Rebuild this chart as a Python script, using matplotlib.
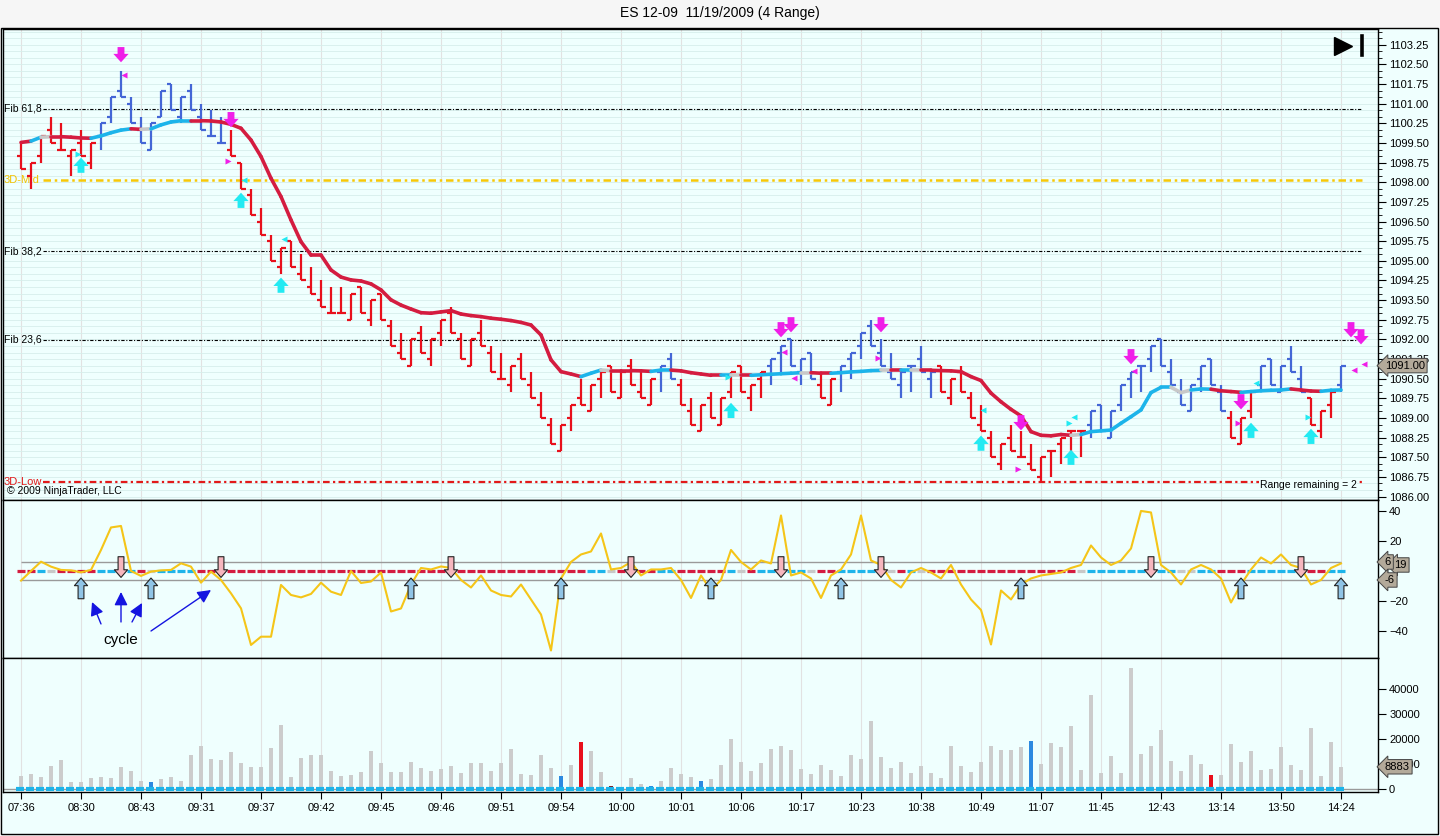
import matplotlib
matplotlib.use("Agg")
import matplotlib.pyplot as plt
from matplotlib.patches import Rectangle
from matplotlib.ticker import MultipleLocator, FixedLocator
import numpy as np

plt.rcParams['font.family'] = ['Liberation Sans', 'DejaVu Sans']

# ---------------- data ----------------
times = ["07:36", "08:30", "08:43", "09:31", "09:37", "09:42", "09:45", "09:46",
         "09:51", "09:54", "10:00", "10:01", "10:06", "10:17", "10:23", "10:38",
         "10:49", "11:07", "11:45", "12:43", "13:14", "13:50", "14:24"]

# 4 range bars: every bar spans 1.00 point, high given, low = high - 1
bar_range = 1.00
highs = [1099.50, 1098.75, 1099.75, 1100.50, 1100.25, 1099.25, 1100.00, 1099.50, 1100.25, 1101.25,
         1102.25, 1101.25, 1100.50, 1100.25, 1101.50, 1101.75, 1101.25, 1101.75, 1101.00, 1100.75,
         1100.50, 1100.00, 1098.75, 1097.75, 1097.00, 1096.00, 1095.50, 1095.75, 1095.25, 1094.75,
         1094.25, 1094.00, 1094.00, 1093.75, 1094.00, 1093.50, 1093.75, 1092.75, 1092.25, 1092.00,
         1092.50, 1092.00, 1092.75, 1093.25, 1092.25, 1092.00, 1092.75, 1091.75, 1091.50, 1091.00,
         1091.50, 1090.75, 1090.00, 1089.00, 1088.75, 1089.50, 1090.50, 1090.25, 1090.75, 1091.00,
         1090.75, 1091.25, 1090.75, 1090.50, 1091.00, 1091.50, 1090.50, 1089.75, 1089.50, 1090.00,
         1089.75, 1090.75, 1091.00, 1090.25, 1090.75, 1091.25, 1091.75, 1092.00, 1091.25, 1091.50,
         1090.75, 1090.50, 1091.00, 1091.50, 1092.25, 1092.75, 1092.00, 1091.50, 1090.75, 1091.00,
         1091.75, 1090.75, 1091.00, 1090.50, 1091.00, 1090.00, 1089.50, 1088.50, 1088.00, 1088.75,
         1088.50, 1088.00, 1087.50, 1087.75, 1088.25, 1088.50, 1088.50, 1089.25, 1089.50, 1089.25,
         1090.25, 1090.75, 1091.00, 1091.75, 1092.00, 1091.25, 1090.50, 1090.25, 1091.00, 1091.25,
         1090.25, 1089.25, 1089.00, 1090.00, 1091.00, 1091.25, 1091.00, 1091.75, 1091.00, 1089.75,
         1089.25, 1090.00, 1091.00]
opens = [1099.00, 1098.25, 1099.00, 1100.00, 1099.25, 1099.00, 1099.50, 1098.75, 1099.75, 1100.50,
         1101.50, 1101.00, 1100.00, 1099.25, 1100.50, 1101.75, 1100.50, 1101.50, 1100.50, 1099.75,
         1099.50, 1099.25, 1098.75, 1097.50, 1096.50, 1095.75, 1094.75, 1095.75, 1094.50, 1094.00,
         1093.50, 1093.00, 1093.00, 1092.75, 1094.00, 1092.75, 1093.75, 1092.50, 1091.50, 1091.00,
         1092.25, 1091.25, 1092.25, 1093.00, 1092.00, 1091.00, 1092.25, 1091.50, 1090.50, 1090.25,
         1091.25, 1090.25, 1089.50, 1088.75, 1087.75, 1089.00, 1089.75, 1089.25, 1090.50, 1091.00,
         1089.75, 1091.00, 1090.00, 1089.50, 1090.75, 1091.25, 1090.25, 1089.25, 1088.50, 1089.75,
         1088.75, 1090.00, 1091.00, 1089.75, 1090.50, 1091.00, 1091.50, 1092.00, 1090.75, 1091.50,
         1090.25, 1089.50, 1090.75, 1091.25, 1091.75, 1092.50, 1091.50, 1090.75, 1090.25, 1091.00,
         1091.25, 1090.50, 1091.00, 1089.75, 1090.75, 1089.75, 1088.75, 1088.25, 1087.25, 1088.25,
         1087.50, 1087.25, 1086.75, 1087.75, 1088.00, 1088.50, 1088.50, 1088.75, 1089.50, 1088.25,
         1089.50, 1090.50, 1091.00, 1091.25, 1092.00, 1090.75, 1090.00, 1089.25, 1090.50, 1091.25,
         1090.00, 1089.00, 1088.00, 1089.25, 1090.25, 1091.25, 1090.00, 1091.25, 1090.50, 1089.75,
         1088.50, 1089.50, 1090.25]
closes = [1098.50, 1098.75, 1099.75, 1099.50, 1099.25, 1099.25, 1099.00, 1099.50, 1100.25, 1101.25,
          1101.25, 1100.25, 1099.50, 1100.25, 1101.50, 1100.75, 1101.25, 1100.75, 1100.00, 1099.75,
          1099.50, 1099.00, 1097.75, 1096.75, 1096.00, 1095.00, 1095.50, 1094.75, 1094.25, 1093.75,
          1093.25, 1093.00, 1093.00, 1093.75, 1093.00, 1093.50, 1092.75, 1091.75, 1091.25, 1092.00,
          1091.50, 1092.00, 1092.75, 1092.25, 1091.25, 1092.00, 1091.75, 1090.75, 1090.50, 1091.00,
          1090.50, 1089.75, 1089.00, 1088.00, 1088.75, 1089.50, 1089.50, 1090.25, 1090.75, 1090.00,
          1090.75, 1090.25, 1089.75, 1090.50, 1091.00, 1090.50, 1089.50, 1088.75, 1089.50, 1089.00,
          1089.75, 1090.75, 1090.00, 1090.25, 1090.75, 1091.25, 1091.75, 1091.00, 1091.25, 1090.50,
          1089.75, 1090.50, 1091.00, 1091.50, 1092.25, 1091.75, 1091.00, 1090.50, 1090.75, 1091.00,
          1090.75, 1090.75, 1090.00, 1090.50, 1090.00, 1089.00, 1088.50, 1087.50, 1088.00, 1087.75,
          1087.50, 1087.00, 1087.50, 1087.75, 1088.25, 1088.50, 1088.50, 1089.25, 1088.50, 1089.25,
          1090.25, 1090.75, 1091.00, 1091.75, 1091.00, 1090.25, 1089.50, 1090.25, 1091.00, 1090.25,
          1089.25, 1088.25, 1089.00, 1090.00, 1091.00, 1090.25, 1091.00, 1090.75, 1090.00, 1088.75,
          1089.25, 1090.00, 1091.00]
# bar colour runs (r = red trend, b = blue trend)
bar_runs = [("r", 8), ("b", 13), ("r", 43), ("b", 2), ("r", 9), ("b", 5), ("r", 2),
            ("b", 10), ("r", 15), ("b", 14), ("r", 3), ("b", 5), ("r", 3), ("b", 1)]

# smoothed moving average on the price panel
ma = [1099.52, 1099.57, 1099.72, 1099.74, 1099.74, 1099.72, 1099.69, 1099.68, 1099.77, 1099.89,
      1099.99, 1100.04, 1100.02, 1100.04, 1100.19, 1100.30, 1100.35, 1100.35, 1100.35, 1100.34,
      1100.30, 1100.21, 1100.06, 1099.61, 1098.98, 1098.15, 1097.45, 1096.56, 1095.73, 1095.22,
      1095.22, 1094.65, 1094.38, 1094.27, 1094.23, 1094.12, 1093.89, 1093.51, 1093.31, 1093.16,
      1093.02, 1093.00, 1093.05, 1093.10, 1092.97, 1092.91, 1092.87, 1092.81, 1092.77, 1092.72,
      1092.65, 1092.55, 1092.17, 1091.22, 1090.77, 1090.68, 1090.58, 1090.71, 1090.83, 1090.81,
      1090.81, 1090.81, 1090.80, 1090.78, 1090.83, 1090.83, 1090.80, 1090.73, 1090.68, 1090.63,
      1090.63, 1090.63, 1090.63, 1090.63, 1090.65, 1090.67, 1090.69, 1090.71, 1090.73, 1090.73,
      1090.71, 1090.71, 1090.73, 1090.76, 1090.78, 1090.81, 1090.82, 1090.82, 1090.82, 1090.82,
      1090.82, 1090.82, 1090.81, 1090.80, 1090.77, 1090.58, 1090.43, 1089.95, 1089.62, 1089.33,
      1089.08, 1088.48, 1088.34, 1088.32, 1088.37, 1088.34, 1088.37, 1088.48, 1088.51, 1088.54,
      1088.80, 1089.05, 1089.31, 1089.97, 1090.17, 1090.17, 1089.97, 1090.07, 1090.11, 1090.10,
      1090.04, 1090.01, 1089.98, 1090.01, 1090.04, 1090.06, 1090.07, 1090.11, 1090.07, 1090.03,
      1090.02, 1090.06, 1090.07]
# colour of the MA segment ending at each bar (r red, c cyan, g grey)
ma_runs = [("r", 2), ("c", 1), ("g", 1), ("r", 4), ("c", 4), ("r", 1), ("g", 1), ("c", 4),
           ("r", 39), ("c", 2), ("g", 1), ("r", 4), ("c", 2), ("r", 5), ("c", 1), ("g", 1),
           ("r", 1), ("c", 5), ("g", 1), ("r", 2), ("c", 5), ("g", 1), ("r", 1), ("c", 1),
           ("g", 1), ("r", 15), ("g", 1), ("c", 9), ("g", 2), ("c", 2), ("r", 3), ("c", 5),
           ("r", 3), ("c", 2)]

fib_names = ["Fib 61,8", "Fib 38,2", "Fib 23,6"]
fib_levels = [1100.80, 1095.36, 1091.98]
mid_3d = 1098.07
low_3d = 1086.56

# signal arrows (bar index, price)
sell_arrows = [(10, 1102.86), (21, 1100.38), (76, 1092.36), (77, 1092.55), (86, 1092.55),
               (100, 1088.81), (111, 1091.33), (122, 1089.61), (133, 1092.36), (134, 1092.09)]
buy_arrows = [(6, 1098.66), (22, 1097.32), (26, 1094.08), (71, 1089.30), (96, 1088.05),
              (105, 1087.51), (123, 1088.54), (129, 1088.31)]
mag_left = [(10.3, 1102.09), (76.3, 1091.52), (77.3, 1090.53), (111.3, 1090.80),
            (133.3, 1090.83), (134.3, 1091.06)]
mag_right = [(20.7, 1098.81), (85.7, 1091.29), (99.7, 1087.06), (121.7, 1088.81)]
cyan_left = [(22.3, 1098.09), (26.3, 1095.84), (96.2, 1089.31), (105.3, 1089.04), (123.5, 1090.34)]
cyan_right = [(5.7, 1099.08), (70.7, 1090.57), (104.8, 1088.81), (128.7, 1089.04)]
last_price = 1091.00

# cycle oscillator
osc = [-6.4, 0, 6.2, 2.9, 0.7, 0.4, -0.9, 0.7, 14, 29,
       30, 0, -3.3, -0.4, 0.4, 0.7, 5.1, 2.9, -7.8, -0.4,
       -6, -14.9, -24.9, -49.3, -43.8, -43.8, -9.3, -16, -17.6, -15.3,
       -7.8, -13.8, -16, 0, -8, -7, -1, -27, -25, -9,
       2, 1, 3, 2, -6, -11, -3, -13, -16, -17,
       -9, -19, -29, -53, -5, 6, 11, 13, 25, 1,
       2, 6, -3, 1, 1, 2, -6, -18, -3, -13,
       -6, 14, 6, 1, 7, 5, 37, -3, -1, -5,
       -18, -3, 1, 11, 37, 7, 4, -6, -11, -1,
       2, -1, -5, 4, -9, -19, -26, -49, -13, -19,
       -9, -5, -3, -2, -1, 2, 4, 17, 9, 4,
       7, 15, 40, 39, 4, -1, -9, 1, 4, 1,
       -5, -21, -9, 1, 9, 5, 11, 4, 2, -9,
       -6, 2, 5]
osc_band = 6
osc_up = [6, 13, 39, 54, 69, 82, 100, 122, 132]
osc_dn = [10, 20, 43, 61, 76, 86, 113, 128]

# volume
vol = [5200, 6000, 4900, 9200, 11600, 2800, 2800, 4500, 4900, 4500,
       8800, 7200, 3300, 2800, 4100, 4800, 3300, 13600, 17200, 12000,
       11600, 14800, 10400, 8800, 8800, 16400, 25600, 4800, 12400, 13600,
       13600, 7200, 5200, 5600, 6800, 15200, 10400, 6800, 6800, 10800,
       8400, 7200, 8000, 9200, 6400, 10500, 10500, 7300, 10500, 16100,
       6100, 5700, 13700, 8500, 5300, 9700, 18700, 15300, 6900, 1300,
       200, 4500, 2100, 1300, 3300, 8500, 6100, 4900, 3300, 4100,
       9700, 20100, 10900, 7300, 10500, 16100, 17300, 15700, 8100, 6100,
       9700, 7700, 5300, 13700, 12100, 27300, 12900, 8500, 10900, 6500,
       9300, 6500, 4500, 17300, 9300, 6900, 10900, 17300, 15700, 15700,
       16900, 19300, 10100, 18500, 16900, 25300, 7700, 37700, 6500, 13300,
       6500, 48500, 14100, 17300, 23700, 11300, 7300, 13700, 10100, 5700,
       5700, 18100, 10900, 15300, 7700, 8100, 16900, 9700, 7700, 24500,
       5300, 18900, 8883]
vol_blue = [13, 54, 63, 68, 101]
vol_red = [56, 119]
vol_darkred = [59]

# ---------------- styling ----------------
BG = "#effffe"
GRID_H = "#d6eeeb"
GRID_V = "#e2e2e2"
RED = "#e8101c"
BLUE = "#4466d6"
MA_COL = {"r": "#d41c40", "c": "#1cb4ea", "g": "#c8c8c8"}
BAR_COL = {"r": RED, "b": BLUE}
TAG = dict(boxstyle="larrow,pad=0.2", fc="#b3aa9a", ec="#444444", lw=0.7)

def expand(runs):
    out = []
    for c, n in runs:
        out += [c] * n
    return out

n = len(highs)
x = np.arange(n)
lows = np.array(highs) - bar_range
bar_cols = [BAR_COL[c] for c in expand(bar_runs)]
ma_cols = expand(ma_runs)
tick_pos = list(range(0, n, 6))
xlim = (-1.8, 135.7)

W, H = 1440, 836
fig = plt.figure(figsize=(W / 100, H / 100), dpi=100, facecolor="#f6f6f6")
frame = Rectangle((1 / W, 2 / H), 1 - 3 / W, 1 - 30 / H, transform=fig.transFigure,
                  fc=BG, ec="black", lw=1)
frame.set_zorder(-5)
fig.patches.append(frame)
fig.text(0.5, 1 - 13 / H, "ES 12-09  11/19/2009 (4 Range)", ha="center", va="center", fontsize=10)

def panel(top, bottom):
    ax = fig.add_axes([3 / W, 1 - bottom / H, 1375 / W, (bottom - top) / H], facecolor=BG)
    ax.set_zorder(1)
    ax.set_xlim(*xlim)
    ax.yaxis.tick_right()
    ax.tick_params(axis="y", which="both", direction="out", labelsize=8, colors="black", pad=2)
    ax.tick_params(axis="y", which="major", length=6)
    ax.tick_params(axis="y", which="minor", length=3)
    ax.tick_params(axis="x", which="both", bottom=False, labelbottom=False)
    for s in ax.spines.values():
        s.set_color("black")
        s.set_linewidth(1)
    for t in tick_pos:
        ax.axvline(t, color=GRID_V, lw=0.8, zorder=0)
    return ax

# ---------------- price panel ----------------
ax1 = panel(29, 500)
ax1.set_ylim(1085.87, 1103.85)
ax1.yaxis.set_major_locator(FixedLocator(np.arange(1086.0, 1103.3, 0.75)))
ax1.yaxis.set_minor_locator(MultipleLocator(0.25))
ax1.yaxis.set_major_formatter(plt.FormatStrFormatter("%.2f"))
ax1.grid(axis="y", which="both", color=GRID_H, lw=0.6, zorder=0)
ax1.set_axisbelow(True)

line_x = [2.2, 134.1]
for name, lvl in zip(fib_names, fib_levels):
    ax1.plot(line_x, [lvl, lvl], color="black", lw=0.8, ls=(0, (3, 1.5, 1, 1.5)), zorder=2)
    ax1.text(-1.75, lvl, name, fontsize=7.5, va="center", ha="left", zorder=3)
ax1.plot(line_x, [mid_3d, mid_3d], color="#f7c808", lw=1.8, ls=(0, (3, 1.5, 1, 1.5)), zorder=2)
ax1.text(-1.75, mid_3d, "3D-Mid", fontsize=8, color="#f2c200", va="center", ha="left", zorder=3)
ax1.plot(line_x, [low_3d, low_3d], color="#e21a1a", lw=1.6, ls=(0, (3, 1.5, 1, 1.5)), zorder=2)
ax1.text(-1.75, low_3d, "3D-Low", fontsize=8, color="#e21a1a", va="center", ha="left", zorder=3)

ax1.vlines(x, lows, highs, colors=bar_cols, lw=1.6, zorder=4)
ax1.hlines(opens, x - 0.45, x, colors=bar_cols, lw=1.6, zorder=4)
ax1.hlines(closes, x, x + 0.45, colors=bar_cols, lw=1.6, zorder=4)

for i in range(1, n):
    ax1.plot([i - 1, i], [ma[i - 1], ma[i]], color=MA_COL[ma_cols[i]], lw=2.6,
             solid_capstyle="round", zorder=5)

arrow_style = "simple,head_length=0.55,head_width=1.0,tail_width=0.45"
for bx, p in sell_arrows:
    ax1.annotate("", xy=(bx, p - 0.28), xytext=(bx, p + 0.30), zorder=6,
                 arrowprops=dict(arrowstyle=arrow_style, fc="#f01ee8", ec="none",
                                 mutation_scale=11, shrinkA=0, shrinkB=0))
for bx, p in buy_arrows:
    ax1.annotate("", xy=(bx, p + 0.28), xytext=(bx, p - 0.30), zorder=6,
                 arrowprops=dict(arrowstyle=arrow_style, fc="#22eaf2", ec="none",
                                 mutation_scale=11, shrinkA=0, shrinkB=0))
for pts, mk, col in [(mag_left, "<", "#f01ee8"), (mag_right, ">", "#f01ee8"),
                     (cyan_left, "<", "#22eaf2"), (cyan_right, ">", "#22eaf2")]:
    ax1.plot([p[0] for p in pts], [p[1] for p in pts], ls="none", marker=mk, ms=5,
             color=col, mec="none", zorder=6)

ax1.text(0.003, 0.019, "\u00a9 2009 NinjaTrader, LLC", transform=ax1.transAxes, fontsize=7.5,
         va="center", ha="left", zorder=7)
ax1.text(0.914, 0.032, "Range remaining = 2", transform=ax1.transAxes, fontsize=7.5,
         va="center", ha="left", zorder=7,
         bbox=dict(boxstyle="square,pad=0.05", fc=BG, ec="none"))
ax1.plot([0.9745], [0.964], transform=ax1.transAxes, marker=">", ms=13, color="black",
         mec="black", zorder=7)
ax1.plot([0.9885, 0.9885], [0.944, 0.985], transform=ax1.transAxes, color="black", lw=2.6,
         zorder=7)
ax1.text(1.005, last_price, "%.2f" % last_price, transform=ax1.get_yaxis_transform(),
         ha="left", va="center", fontsize=8, bbox=TAG, zorder=10, clip_on=False)

# ---------------- oscillator panel ----------------
ax2 = panel(500, 658)
ax2.set_ylim(-58, 47.3)
ax2.set_yticks([-40, -20, 20, 40])
ax2.hlines([osc_band, -osc_band], 0, n - 1, color="#9a9a9a", lw=1, zorder=2)
ax2.hlines(np.zeros(n), x - 0.45, x + 0.35, colors=[MA_COL[c] for c in ma_cols], lw=2.3, zorder=3)
ax2.plot(x, osc, color="#f5c518", lw=1.5, zorder=4)
small = "simple,head_length=0.55,head_width=0.95,tail_width=0.42"
for bx in osc_up:
    ax2.annotate("", xy=(bx, -4.7), xytext=(bx, -18.5), zorder=6,
                 arrowprops=dict(arrowstyle=small, fc="#90c4e6", ec="#222222", lw=0.8,
                                 mutation_scale=10, shrinkA=0, shrinkB=0))
for bx in osc_dn:
    ax2.annotate("", xy=(bx, -4.3), xytext=(bx, 9.5), zorder=6,
                 arrowprops=dict(arrowstyle=small, fc="#f6b6be", ec="#222222", lw=0.8,
                                 mutation_scale=10, shrinkA=0, shrinkB=0))
# "cycle" note with its pointers
ax2.text(10.0, -46, "cycle", fontsize=11, ha="center", va="center", zorder=7)
for tail, head in [((8.0, -35.3), (7.1, -20.7)), ((10.0, -34), (10.0, -14)),
                   ((11.1, -34), (12.1, -21.3)), ((13.0, -40), (19.0, -12.7))]:
    ax2.annotate("", xy=head, xytext=tail, zorder=7,
                 arrowprops=dict(arrowstyle="-|>", color="#1414e0", lw=1, mutation_scale=20,
                                 shrinkA=0, shrinkB=0))
yt2 = ax2.get_yaxis_transform()
ax2.text(1.012, 4.0, "19", transform=yt2, ha="left", va="center", fontsize=8, bbox=TAG,
         zorder=9, clip_on=False)
ax2.text(1.005, 6, "6", transform=yt2, ha="left", va="center", fontsize=8, bbox=TAG,
         zorder=10, clip_on=False)
ax2.text(1.005, -6, "-6", transform=yt2, ha="left", va="center", fontsize=8, bbox=TAG,
         zorder=10, clip_on=False)

# ---------------- volume panel ----------------
ax3 = panel(658, 792)
ax3.set_ylim(-1200, 52400)
ax3.set_yticks([0, 10000, 20000, 30000, 40000])
vcols = []
for i in range(n):
    if i in vol_blue:
        vcols.append("#2d89e0")
    elif i in vol_red:
        vcols.append(RED)
    elif i in vol_darkred:
        vcols.append("#8b1a1a")
    else:
        vcols.append("#cccccc")
ax3.bar(x, vol, width=0.4, color=vcols, zorder=3)
ax3.axhline(0, color="#9a9a9a", lw=1, zorder=2)
ax3.hlines(np.zeros(n), x - 0.5, x + 0.3, colors="#1cb4ea", lw=3, zorder=4)
ax3.text(1.005, vol[-1], "%d" % vol[-1], transform=ax3.get_yaxis_transform(), ha="left",
         va="center", fontsize=8, bbox=TAG, zorder=10, clip_on=False)
ax3.tick_params(axis="x", which="both", bottom=True, labelbottom=True, direction="out",
                length=5, labelsize=8, pad=3)
ax3.set_xticks(tick_pos)
ax3.set_xticklabels(times)

fig.savefig("out.png", dpi=100, facecolor=fig.get_facecolor())
